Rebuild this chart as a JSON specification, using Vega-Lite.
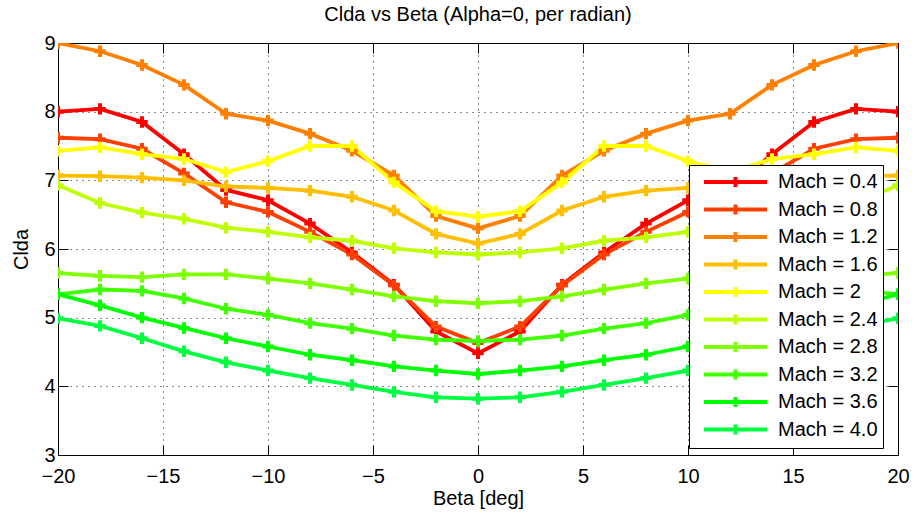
{
  "$schema": "https://vega.github.io/schema/vega-lite/v6.json",
  "width": 840,
  "height": 412,
  "autosize": "none",
  "padding": {"left": 58, "top": 43, "right": 17, "bottom": 60},
  "background": "white",
  "title": {"text": "Clda vs Beta (Alpha=0, per radian)", "font": "Liberation Sans", "fontSize": 20, "fontWeight": "normal", "color": "black", "offset": 8},
  "config": {
    "font": "Liberation Sans",
    "view": {"stroke": "black", "strokeWidth": 1},
    "axis": {"labelFont": "Liberation Sans", "titleFont": "Liberation Sans", "labelFontSize": 20, "titleFontSize": 20, "titleFontWeight": "normal", "labelColor": "black", "titleColor": "black", "domainColor": "black", "tickColor": "black", "gridColor": "black", "gridDash": [1, 5], "gridOpacity": 0.9, "labelFlush": false, "labelOverlap": false}
  },
  "data": {"values": [
    {"b":-20,"m":"Mach = 0.4","v":8.00},{"b":-18,"m":"Mach = 0.4","v":8.04},{"b":-16,"m":"Mach = 0.4","v":7.85},{"b":-14,"m":"Mach = 0.4","v":7.38},{"b":-12,"m":"Mach = 0.4","v":6.86},{"b":-10,"m":"Mach = 0.4","v":6.71},{"b":-8,"m":"Mach = 0.4","v":6.37},{"b":-6,"m":"Mach = 0.4","v":5.95},{"b":-4,"m":"Mach = 0.4","v":5.48},{"b":-2,"m":"Mach = 0.4","v":4.80},{"b":0,"m":"Mach = 0.4","v":4.48},{"b":2,"m":"Mach = 0.4","v":4.80},{"b":4,"m":"Mach = 0.4","v":5.48},{"b":6,"m":"Mach = 0.4","v":5.95},{"b":8,"m":"Mach = 0.4","v":6.37},{"b":10,"m":"Mach = 0.4","v":6.71},{"b":12,"m":"Mach = 0.4","v":6.86},{"b":14,"m":"Mach = 0.4","v":7.38},{"b":16,"m":"Mach = 0.4","v":7.85},{"b":18,"m":"Mach = 0.4","v":8.04},{"b":20,"m":"Mach = 0.4","v":8.00},
    {"b":-20,"m":"Mach = 0.8","v":7.62},{"b":-18,"m":"Mach = 0.8","v":7.60},{"b":-16,"m":"Mach = 0.8","v":7.46},{"b":-14,"m":"Mach = 0.8","v":7.10},{"b":-12,"m":"Mach = 0.8","v":6.68},{"b":-10,"m":"Mach = 0.8","v":6.54},{"b":-8,"m":"Mach = 0.8","v":6.25},{"b":-6,"m":"Mach = 0.8","v":5.92},{"b":-4,"m":"Mach = 0.8","v":5.47},{"b":-2,"m":"Mach = 0.8","v":4.87},{"b":0,"m":"Mach = 0.8","v":4.63},{"b":2,"m":"Mach = 0.8","v":4.87},{"b":4,"m":"Mach = 0.8","v":5.47},{"b":6,"m":"Mach = 0.8","v":5.92},{"b":8,"m":"Mach = 0.8","v":6.25},{"b":10,"m":"Mach = 0.8","v":6.54},{"b":12,"m":"Mach = 0.8","v":6.68},{"b":14,"m":"Mach = 0.8","v":7.10},{"b":16,"m":"Mach = 0.8","v":7.46},{"b":18,"m":"Mach = 0.8","v":7.60},{"b":20,"m":"Mach = 0.8","v":7.62},
    {"b":-20,"m":"Mach = 1.2","v":9.00},{"b":-18,"m":"Mach = 1.2","v":8.88},{"b":-16,"m":"Mach = 1.2","v":8.68},{"b":-14,"m":"Mach = 1.2","v":8.39},{"b":-12,"m":"Mach = 1.2","v":7.97},{"b":-10,"m":"Mach = 1.2","v":7.87},{"b":-8,"m":"Mach = 1.2","v":7.68},{"b":-6,"m":"Mach = 1.2","v":7.43},{"b":-4,"m":"Mach = 1.2","v":7.07},{"b":-2,"m":"Mach = 1.2","v":6.48},{"b":0,"m":"Mach = 1.2","v":6.30},{"b":2,"m":"Mach = 1.2","v":6.48},{"b":4,"m":"Mach = 1.2","v":7.07},{"b":6,"m":"Mach = 1.2","v":7.43},{"b":8,"m":"Mach = 1.2","v":7.68},{"b":10,"m":"Mach = 1.2","v":7.87},{"b":12,"m":"Mach = 1.2","v":7.97},{"b":14,"m":"Mach = 1.2","v":8.39},{"b":16,"m":"Mach = 1.2","v":8.68},{"b":18,"m":"Mach = 1.2","v":8.88},{"b":20,"m":"Mach = 1.2","v":9.00},
    {"b":-20,"m":"Mach = 1.6","v":7.07},{"b":-18,"m":"Mach = 1.6","v":7.06},{"b":-16,"m":"Mach = 1.6","v":7.04},{"b":-14,"m":"Mach = 1.6","v":7.00},{"b":-12,"m":"Mach = 1.6","v":6.91},{"b":-10,"m":"Mach = 1.6","v":6.89},{"b":-8,"m":"Mach = 1.6","v":6.85},{"b":-6,"m":"Mach = 1.6","v":6.76},{"b":-4,"m":"Mach = 1.6","v":6.56},{"b":-2,"m":"Mach = 1.6","v":6.22},{"b":0,"m":"Mach = 1.6","v":6.08},{"b":2,"m":"Mach = 1.6","v":6.22},{"b":4,"m":"Mach = 1.6","v":6.56},{"b":6,"m":"Mach = 1.6","v":6.76},{"b":8,"m":"Mach = 1.6","v":6.85},{"b":10,"m":"Mach = 1.6","v":6.89},{"b":12,"m":"Mach = 1.6","v":6.91},{"b":14,"m":"Mach = 1.6","v":7.00},{"b":16,"m":"Mach = 1.6","v":7.04},{"b":18,"m":"Mach = 1.6","v":7.06},{"b":20,"m":"Mach = 1.6","v":7.07},
    {"b":-20,"m":"Mach = 2","v":7.43},{"b":-18,"m":"Mach = 2","v":7.48},{"b":-16,"m":"Mach = 2","v":7.38},{"b":-14,"m":"Mach = 2","v":7.31},{"b":-12,"m":"Mach = 2","v":7.12},{"b":-10,"m":"Mach = 2","v":7.28},{"b":-8,"m":"Mach = 2","v":7.50},{"b":-6,"m":"Mach = 2","v":7.50},{"b":-4,"m":"Mach = 2","v":6.97},{"b":-2,"m":"Mach = 2","v":6.55},{"b":0,"m":"Mach = 2","v":6.47},{"b":2,"m":"Mach = 2","v":6.55},{"b":4,"m":"Mach = 2","v":6.97},{"b":6,"m":"Mach = 2","v":7.50},{"b":8,"m":"Mach = 2","v":7.50},{"b":10,"m":"Mach = 2","v":7.28},{"b":12,"m":"Mach = 2","v":7.12},{"b":14,"m":"Mach = 2","v":7.31},{"b":16,"m":"Mach = 2","v":7.38},{"b":18,"m":"Mach = 2","v":7.48},{"b":20,"m":"Mach = 2","v":7.43},
    {"b":-20,"m":"Mach = 2.4","v":6.93},{"b":-18,"m":"Mach = 2.4","v":6.67},{"b":-16,"m":"Mach = 2.4","v":6.53},{"b":-14,"m":"Mach = 2.4","v":6.44},{"b":-12,"m":"Mach = 2.4","v":6.31},{"b":-10,"m":"Mach = 2.4","v":6.25},{"b":-8,"m":"Mach = 2.4","v":6.17},{"b":-6,"m":"Mach = 2.4","v":6.12},{"b":-4,"m":"Mach = 2.4","v":6.01},{"b":-2,"m":"Mach = 2.4","v":5.95},{"b":0,"m":"Mach = 2.4","v":5.92},{"b":2,"m":"Mach = 2.4","v":5.95},{"b":4,"m":"Mach = 2.4","v":6.01},{"b":6,"m":"Mach = 2.4","v":6.12},{"b":8,"m":"Mach = 2.4","v":6.17},{"b":10,"m":"Mach = 2.4","v":6.25},{"b":12,"m":"Mach = 2.4","v":6.31},{"b":14,"m":"Mach = 2.4","v":6.44},{"b":16,"m":"Mach = 2.4","v":6.53},{"b":18,"m":"Mach = 2.4","v":6.67},{"b":20,"m":"Mach = 2.4","v":6.93},
    {"b":-20,"m":"Mach = 2.8","v":5.65},{"b":-18,"m":"Mach = 2.8","v":5.61},{"b":-16,"m":"Mach = 2.8","v":5.59},{"b":-14,"m":"Mach = 2.8","v":5.63},{"b":-12,"m":"Mach = 2.8","v":5.63},{"b":-10,"m":"Mach = 2.8","v":5.57},{"b":-8,"m":"Mach = 2.8","v":5.50},{"b":-6,"m":"Mach = 2.8","v":5.41},{"b":-4,"m":"Mach = 2.8","v":5.31},{"b":-2,"m":"Mach = 2.8","v":5.24},{"b":0,"m":"Mach = 2.8","v":5.21},{"b":2,"m":"Mach = 2.8","v":5.24},{"b":4,"m":"Mach = 2.8","v":5.31},{"b":6,"m":"Mach = 2.8","v":5.41},{"b":8,"m":"Mach = 2.8","v":5.50},{"b":10,"m":"Mach = 2.8","v":5.57},{"b":12,"m":"Mach = 2.8","v":5.63},{"b":14,"m":"Mach = 2.8","v":5.63},{"b":16,"m":"Mach = 2.8","v":5.59},{"b":18,"m":"Mach = 2.8","v":5.61},{"b":20,"m":"Mach = 2.8","v":5.65},
    {"b":-20,"m":"Mach = 3.2","v":5.34},{"b":-18,"m":"Mach = 3.2","v":5.41},{"b":-16,"m":"Mach = 3.2","v":5.39},{"b":-14,"m":"Mach = 3.2","v":5.28},{"b":-12,"m":"Mach = 3.2","v":5.13},{"b":-10,"m":"Mach = 3.2","v":5.04},{"b":-8,"m":"Mach = 3.2","v":4.92},{"b":-6,"m":"Mach = 3.2","v":4.84},{"b":-4,"m":"Mach = 3.2","v":4.74},{"b":-2,"m":"Mach = 3.2","v":4.68},{"b":0,"m":"Mach = 3.2","v":4.66},{"b":2,"m":"Mach = 3.2","v":4.68},{"b":4,"m":"Mach = 3.2","v":4.74},{"b":6,"m":"Mach = 3.2","v":4.84},{"b":8,"m":"Mach = 3.2","v":4.92},{"b":10,"m":"Mach = 3.2","v":5.04},{"b":12,"m":"Mach = 3.2","v":5.13},{"b":14,"m":"Mach = 3.2","v":5.28},{"b":16,"m":"Mach = 3.2","v":5.39},{"b":18,"m":"Mach = 3.2","v":5.41},{"b":20,"m":"Mach = 3.2","v":5.34},
    {"b":-20,"m":"Mach = 3.6","v":5.34},{"b":-18,"m":"Mach = 3.6","v":5.18},{"b":-16,"m":"Mach = 3.6","v":5.00},{"b":-14,"m":"Mach = 3.6","v":4.85},{"b":-12,"m":"Mach = 3.6","v":4.70},{"b":-10,"m":"Mach = 3.6","v":4.58},{"b":-8,"m":"Mach = 3.6","v":4.46},{"b":-6,"m":"Mach = 3.6","v":4.38},{"b":-4,"m":"Mach = 3.6","v":4.29},{"b":-2,"m":"Mach = 3.6","v":4.23},{"b":0,"m":"Mach = 3.6","v":4.18},{"b":2,"m":"Mach = 3.6","v":4.23},{"b":4,"m":"Mach = 3.6","v":4.29},{"b":6,"m":"Mach = 3.6","v":4.38},{"b":8,"m":"Mach = 3.6","v":4.46},{"b":10,"m":"Mach = 3.6","v":4.58},{"b":12,"m":"Mach = 3.6","v":4.70},{"b":14,"m":"Mach = 3.6","v":4.85},{"b":16,"m":"Mach = 3.6","v":5.00},{"b":18,"m":"Mach = 3.6","v":5.18},{"b":20,"m":"Mach = 3.6","v":5.34},
    {"b":-20,"m":"Mach = 4.0","v":4.99},{"b":-18,"m":"Mach = 4.0","v":4.88},{"b":-16,"m":"Mach = 4.0","v":4.70},{"b":-14,"m":"Mach = 4.0","v":4.51},{"b":-12,"m":"Mach = 4.0","v":4.35},{"b":-10,"m":"Mach = 4.0","v":4.23},{"b":-8,"m":"Mach = 4.0","v":4.12},{"b":-6,"m":"Mach = 4.0","v":4.02},{"b":-4,"m":"Mach = 4.0","v":3.92},{"b":-2,"m":"Mach = 4.0","v":3.84},{"b":0,"m":"Mach = 4.0","v":3.82},{"b":2,"m":"Mach = 4.0","v":3.84},{"b":4,"m":"Mach = 4.0","v":3.92},{"b":6,"m":"Mach = 4.0","v":4.02},{"b":8,"m":"Mach = 4.0","v":4.12},{"b":10,"m":"Mach = 4.0","v":4.23},{"b":12,"m":"Mach = 4.0","v":4.35},{"b":14,"m":"Mach = 4.0","v":4.51},{"b":16,"m":"Mach = 4.0","v":4.70},{"b":18,"m":"Mach = 4.0","v":4.88},{"b":20,"m":"Mach = 4.0","v":4.99}
  ]},
  "resolve": {"axis": {"x": "independent", "y": "independent"}},
  "layer": [
    {
      "mark": {"type": "line", "strokeWidth": 3.8, "clip": true},
      "encoding": {
        "x": {"field": "b", "type": "quantitative", "scale": {"domain": [-20, 20], "nice": false}, "axis": {"title": "Beta [deg]", "values": [-20, -15, -10, -5, 0, 5, 10, 15, 20], "tickSize": -10, "labelPadding": 21, "titlePadding": 2, "grid": true, "domain": true}},
        "y": {"field": "v", "type": "quantitative", "scale": {"domain": [3, 9], "nice": false, "zero": false}, "axis": {"title": "Clda", "values": [3, 4, 5, 6, 7, 8, 9], "tickSize": -10, "labelPadding": 13, "titlePadding": 12, "grid": true, "domain": true}},
        "color": {"field": "m", "type": "nominal", "sort": null,
          "scale": {"domain": ["Mach = 0.4", "Mach = 0.8", "Mach = 1.2", "Mach = 1.6", "Mach = 2", "Mach = 2.4", "Mach = 2.8", "Mach = 3.2", "Mach = 3.6", "Mach = 4.0"],
                    "range": ["#FF0000", "#FF4000", "#FF8000", "#FFBF00", "#FFFF00", "#BFFF00", "#80FF00", "#40FF00", "#00FF00", "#00FF40"]},
          "legend": {"title": null, "orient": "none", "legendX": 631, "legendY": 122, "fillColor": "white", "strokeColor": "black", "padding": 5, "labelFont": "Liberation Sans", "labelFontSize": 20, "labelColor": "black", "symbolType": "M-0.2,0H6.1M2.95,-0.5V0.5M2.45,0H3.45", "symbolSize": 400, "symbolStrokeWidth": 4, "labelOffset": 60, "rowPadding": 1.5, "cornerRadius": 0}}
      }
    },
    {
      "mark": {"type": "point", "shape": "M-1,0H1M0,-1V1", "filled": false, "size": 130, "strokeWidth": 4, "opacity": 1, "clip": true},
      "encoding": {
        "x": {"field": "b", "type": "quantitative", "axis": null},
        "y": {"field": "v", "type": "quantitative", "axis": null},
        "color": {"field": "m", "type": "nominal", "sort": null}
      }
    },
    {
      "mark": {"type": "point", "opacity": 0},
      "encoding": {
        "x": {"field": "b", "type": "quantitative", "axis": {"orient": "top", "title": null, "labels": false, "values": [-20, -15, -10, -5, 0, 5, 10, 15, 20], "tickSize": -10, "grid": false}},
        "y": {"field": "v", "type": "quantitative", "axis": {"orient": "right", "title": null, "labels": false, "values": [3, 4, 5, 6, 7, 8, 9], "tickSize": -10, "grid": false}}
      }
    }
  ]
}
